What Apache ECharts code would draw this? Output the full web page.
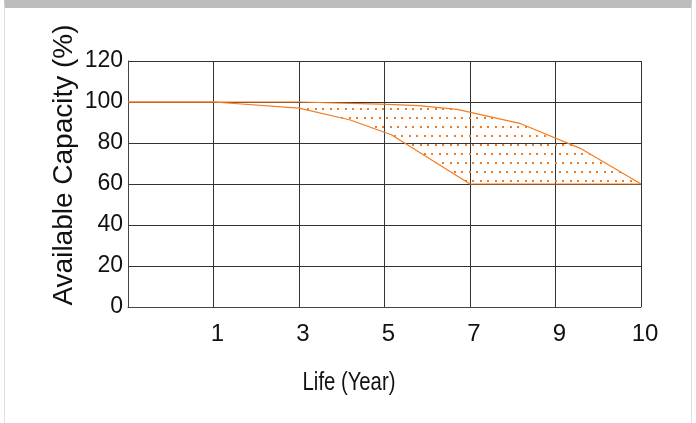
<!DOCTYPE html>
<html>
<head>
<meta charset="utf-8">
<script src="https://cdn.jsdelivr.net/npm/echarts@6/dist/echarts.min.js"></script>
<style>
    html, body { margin: 0; padding: 0; background: #fff; }
    #frame {
        position: relative;
        width: 686px;
        height: 415px;
        margin-left: 4px;
        border-top: 8px solid #bdbdbd;
        border-left: 1px solid #dedede;
        border-right: 1px solid #dedede;
    }
    #myChart { position: absolute; left: -5px; top: -8px; width: 696px; height: 423px; }
</style>
</head>
<body>
<div id="frame"><div id="myChart"></div></div>
<script>
// x positions are axis slots (0..6), labelled by xTicks
var xTicks = ['', '1', '3', '5', '7', '9', '10'];
var yTicks = [0, 20, 40, 60, 80, 100, 120];

// upper edge of the capacity band
var upperX = [0, 2, 2.95, 3.4, 3.85, 4.58, 5.29, 6];
var upperY = [100, 100, 99, 98.2, 96.4, 89.6, 77.4, 60];
// lower edge of the capacity band
var lowerX = [0, 1, 2, 2.6, 3.08, 4, 6];
var lowerY = [100, 100, 97, 91.2, 84, 60, 60];

var orange = '#f47b20';

function pairs(xs, ys) {
    return xs.map(function (x, i) { return [x, ys[i]]; });
}

// dotted fill pattern, staggered rows
function dotPattern() {
    var c = document.createElement('canvas');
    c.width = 15; c.height = 18;
    var ctx = c.getContext('2d');
    ctx.fillStyle = orange;
    ctx.fillRect(0, 0, 2, 2);
    ctx.fillRect(7, 0, 2, 2);
    ctx.fillRect(4, 9, 2, 2);
    ctx.fillRect(11, 9, 2, 2);
    return c;
}

var myChart = echarts.init(document.getElementById('myChart'));
var font = "'Liberation Sans', Arial, sans-serif";

myChart.setOption({
    animation: false,
    grid: { left: 128, right: 55, top: 61, bottom: 116 },
    xAxis: {
        type: 'value',
        min: 0,
        max: xTicks.length - 1,
        interval: 1,
        axisLine: { show: true, lineStyle: { color: '#444', width: 1 } },
        axisTick: { show: false },
        splitLine: { show: true, lineStyle: { color: '#333', width: 1 } },
        axisLabel: {
            margin: 15,
            fontSize: 24,
            color: '#111',
            fontFamily: font,
            padding: [0, 0, 0, 8],
            formatter: function (v) { return xTicks[Math.round(v)]; }
        }
    },
    yAxis: {
        type: 'value',
        min: yTicks[0],
        max: yTicks[yTicks.length - 1],
        interval: 20,
        axisLine: { show: true, lineStyle: { color: '#444', width: 1 } },
        axisTick: { show: false },
        splitLine: { show: true, lineStyle: { color: '#333', width: 1 } },
        axisLabel: {
            margin: 5,
            fontSize: 23,
            color: '#111',
            fontFamily: font,
            padding: [6, 0, 0, 0]
        }
    },
    graphic: [
        {
            type: 'text',
            x: 64, y: 165,
            rotation: Math.PI / 2,
            style: {
                text: 'Available Capacity (%)',
                font: "28px 'Liberation Sans', Arial, sans-serif",
                fill: '#111',
                align: 'center',
                verticalAlign: 'middle'
            }
        },
        {
            type: 'text',
            x: 349, y: 383,
            scaleX: 0.78,
            style: {
                text: 'Life (Year)',
                font: "26px 'Liberation Sans', Arial, sans-serif",
                fill: '#111',
                align: 'center',
                verticalAlign: 'middle'
            }
        }
    ],
    series: [
        {
            type: 'custom',
            data: [0],
            z: 1,
            renderItem: function (params, api) {
                var pts = [];
                for (var i = 0; i < upperX.length; i++) pts.push(api.coord([upperX[i], upperY[i]]));
                for (var j = lowerX.length - 1; j >= 0; j--) pts.push(api.coord([lowerX[j], lowerY[j]]));
                return {
                    type: 'polygon',
                    shape: { points: pts },
                    style: { fill: { image: dotPattern(), repeat: 'repeat' }, stroke: null }
                };
            }
        },
        {
            type: 'line',
            data: pairs(upperX, upperY),
            symbol: 'none',
            z: 3,
            lineStyle: { color: orange, width: 1.2 }
        },
        {
            type: 'line',
            data: pairs(lowerX, lowerY),
            symbol: 'none',
            z: 3,
            lineStyle: { color: orange, width: 1.2 }
        }
    ]
});
</script>
</body>
</html>
